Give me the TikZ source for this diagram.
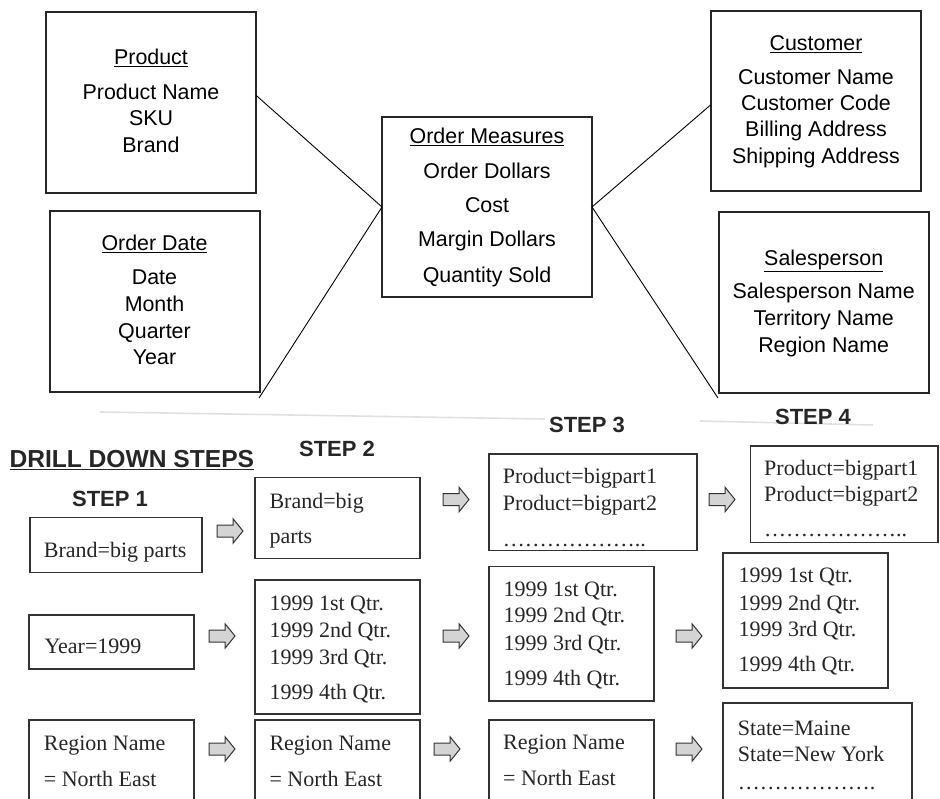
\documentclass[tikz,border=0pt]{standalone}
\usepackage{fontspec}
\setmainfont{Liberation Serif}
\setsansfont{Liberation Sans}
\usetikzlibrary{calc}
\tikzset{
  topbox/.style={draw=black!85, line width=1.3pt, inner sep=0pt, outer sep=0pt},
  botbox/.style={draw=black!80, line width=1.3pt, inner sep=0pt, outer sep=0pt},
  tt/.style={font=\sffamily\fontsize{21.4}{26}\selectfont, inner sep=0pt, anchor=base, text=black},
  bt/.style={font=\rmfamily\fontsize{22}{26}\selectfont, inner sep=0pt, anchor=base west, text=black!85},
  hd/.style={font=\sffamily\bfseries\fontsize{22}{26}\selectfont, inner sep=0pt, anchor=base, text=black!85},
  conn/.style={draw=black, line width=0.9pt},
  faint/.style={draw=black!12, line width=1.6pt},
  barrow/.pic={\path[draw=black!80, fill=black!17, line width=1pt]
     (0,-6)--(16,-6)--(16,-12.3)--(26,0)--(16,12.3)--(16,6)--(0,6)--cycle;}
}
\newcommand\mybox[6]{% style, name, x1, y1, x2, y2
  \pgfmathsetmacro\bw{#5-#3}\pgfmathsetmacro\bh{#6-#4}%
  \node[#1, minimum width=\bw pt, minimum height=\bh pt] (#2) at ({(#3+#5)/2},{(#4+#6)/2}) {};}
\newcommand\tlines[3]{\foreach \t/\yy [count=\i] in {#3} {\node[tt] (#2\i) at (#1,\yy) {\t};}}
\newcommand\blines[3]{\foreach \t/\yy [count=\i] in {#3} {\node[bt] (#2\i) at (#1,\yy) {\t};}}
\begin{document}
\begin{tikzpicture}[x=1pt,y=-1pt]
\useasboundingbox (0,0) rectangle (940,799);
\clip (0,0) rectangle (940,799);

% ---------- star schema ----------
\mybox{topbox}{prod}{46}{12}{256}{193}
\mybox{topbox}{odate}{50}{211}{260}{392}
\mybox{topbox}{meas}{382}{117}{592}{297}
\mybox{topbox}{cust}{711}{11}{921}{191}
\mybox{topbox}{sales}{719}{212}{929}{393}

\tlines{151}{prodT}{\underline{Product}/64.5, Product Name/99.5, SKU/125.7, Brand/152.5}
\tlines{154.5}{odT}{\underline{Order Date}/250.6, Date/284.4, Month/311.6, Quarter/338.6, Year/364.8}
\tlines{487}{mT}{\underline{Order Measures}/143.4, Order Dollars/178.4, Cost/212.4, Margin Dollars/246.6, Quantity Sold/282.4}
\tlines{816}{cT}{\underline{Customer}/50.6, Customer Name/84.4, Customer Code/111, Billing Address/136.8, Shipping Address/163.4}
\tlines{823.7}{sT}{\underline{Salesperson}/265.6, Salesperson Name/299, Territory Name/325.7, Region Name/352.3}

\coordinate (odEnd) at (259,398);
\coordinate (spEnd) at (718,398);
\draw[conn] ($(prod.north east)!0.46!(prod.south east)$) -- (meas.west);
\draw[conn] (meas.west) -- (odEnd);
\draw[conn] (meas.east) -- ($(cust.north west)!0.52!(cust.south west)$);
\draw[conn] (meas.east) -- (spEnd);

% faint separator (scan artefact)
\draw[faint] (100,412) -- (545,419);
\draw[faint] (700,421) -- (873,425);

% ---------- drill down ----------
\node[hd, anchor=base west, font=\sffamily\bfseries\fontsize{24.6}{28}\selectfont] (ddh) at (9.3,467.5) {\underline{DRILL DOWN STEPS}};
\node[hd] (st1) at (110,506) {STEP 1};
\node[hd] (st2) at (337,456.7) {STEP 2};
\node[hd] (st3) at (587,432.7) {STEP 3};
\node[hd] (st4) at (813,424.3) {STEP 4};

% row 1
\mybox{botbox}{a1}{30}{517.7}{202}{572.3}
\mybox{botbox}{a2}{255}{477.7}{420}{558.3}
\mybox{botbox}{a3}{489}{454}{697}{550.7}
\mybox{botbox}{a4}{750.7}{446}{938}{542.7}
\blines{43.7}{a1t}{Brand=big parts/557}
\blines{269.3}{a2t}{Brand=big/508.5, parts/543.5}
\blines{502.7}{a3t}{Product=bigpart1/483.5, Product=bigpart2/510, ………………../546}
\blines{764}{a4t}{Product=bigpart1/475.5, Product=bigpart2/501.8, ………………../536.8}
\pic at (217,531) {barrow};
\pic at (443,499.5) {barrow};
\pic at (709,499.5) {barrow};

% row 2
\mybox{botbox}{b1}{29}{615}{194}{669}
\mybox{botbox}{b2}{255}{580}{420}{714}
\mybox{botbox}{b3}{489}{566.7}{654}{701}
\mybox{botbox}{b4}{723}{553}{888}{688}
\blines{44.3}{b1t}{Year=1999/653.3}
\blines{269.3}{b2t}{1999 1st Qtr./610, 1999 2nd Qtr./637.3, 1999 3rd Qtr./664, 1999 4th Qtr./699.3}
\blines{503.3}{b3t}{1999 1st Qtr./596, 1999 2nd Qtr./622.7, 1999 3rd Qtr./650, 1999 4th Qtr./685}
\blines{738.3}{b4t}{1999 1st Qtr./582.7, 1999 2nd Qtr./610, 1999 3rd Qtr./636.7, 1999 4th Qtr./671.7}
\pic at (209,636) {barrow};
\pic at (443,636) {barrow};
\pic at (676,636) {barrow};

% row 3
\mybox{botbox}{c1}{29}{720}{194}{830}
\mybox{botbox}{c2}{255}{720}{420}{830}
\mybox{botbox}{c3}{489}{720}{654}{830}
\mybox{botbox}{c4}{723}{703}{912}{830}
\blines{43.7}{c1t}{Region Name/750, = North East/786}
\blines{269.3}{c2t}{Region Name/750, = North East/786}
\blines{503}{c3t}{Region Name/749.5, = North East/785.5}
\blines{737.7}{c4t}{State=Maine/735, State=New York/761, ………………./789}
\pic at (209,749) {barrow};
\pic at (434,749) {barrow};
\pic at (676,749) {barrow};
\end{tikzpicture}
\end{document}
